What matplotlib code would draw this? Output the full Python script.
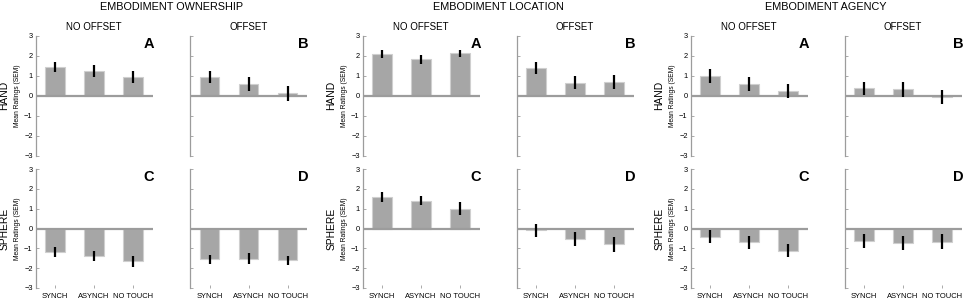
import matplotlib
matplotlib.use("Agg")
import matplotlib.pyplot as plt

plt.rcParams['font.family'] = ['Liberation Sans', 'DejaVu Sans']

conditions = ["SYNCH", "ASYNCH", "NO TOUCH"]
measures = ["EMBODIMENT OWNERSHIP", "EMBODIMENT LOCATION", "EMBODIMENT AGENCY"]
col_titles = ["NO OFFSET", "OFFSET"]
row_titles = ["HAND", "SPHERE"]
panel_letters = [["A", "B"], ["C", "D"]]
yticks = [-3, -2, -1, 0, 1, 2, 3]

# Ownership (A: hand/no offset, B: hand/offset, C: sphere/no offset, D: sphere/offset)
own_A = [1.45, 1.25, 0.95]
own_A_sem = [0.25, 0.30, 0.30]
own_B = [0.95, 0.57, 0.12]
own_B_sem = [0.30, 0.35, 0.37]
own_C = [-1.19, -1.39, -1.66]
own_C_sem = [0.25, 0.24, 0.27]
own_D = [-1.55, -1.53, -1.61]
own_D_sem = [0.22, 0.28, 0.24]

# Location
loc_A = [2.07, 1.82, 2.12]
loc_A_sem = [0.19, 0.22, 0.18]
loc_B = [1.37, 0.65, 0.68]
loc_B_sem = [0.29, 0.33, 0.35]
loc_C = [1.60, 1.40, 1.00]
loc_C_sem = [0.25, 0.22, 0.32]
loc_D = [-0.10, -0.53, -0.80]
loc_D_sem = [0.32, 0.33, 0.37]

# Agency
agc_A = [0.97, 0.57, 0.25]
agc_A_sem = [0.36, 0.35, 0.34]
agc_B = [0.37, 0.32, -0.05]
agc_B_sem = [0.33, 0.38, 0.34]
agc_C = [-0.42, -0.69, -1.13]
agc_C_sem = [0.32, 0.32, 0.33]
agc_D = [-0.62, -0.74, -0.67]
agc_D_sem = [0.34, 0.35, 0.38]

data = [
    [[(own_A, own_A_sem), (own_B, own_B_sem)], [(own_C, own_C_sem), (own_D, own_D_sem)]],
    [[(loc_A, loc_A_sem), (loc_B, loc_B_sem)], [(loc_C, loc_C_sem), (loc_D, loc_D_sem)]],
    [[(agc_A, agc_A_sem), (agc_B, agc_B_sem)], [(agc_C, agc_C_sem), (agc_D, agc_D_sem)]],
]

W, H = 964, 300
fig = plt.figure(figsize=(W / 100, H / 100), dpi=100)

lefts_px = [[35.5, 190.0], [362.5, 516.5], [690.5, 844.5]]
ax_w_px = 117.0
rows_px = [(35.5, 156.0), (169.0, 288.0)]  # (top, bottom)

bar_color = "#a6a6a6"
edge_color = "#cfcfcf"
axis_gray = "#9c9c9c"

for m in range(3):
    for r in range(2):
        for c in range(2):
            left = lefts_px[m][c] / W
            top, bot = rows_px[r]
            ax = fig.add_axes([left, 1 - bot / H, ax_w_px / W, (bot - top) / H])
            vals, sems = data[m][r][c]
            x = [1, 2, 3]
            ax.bar(x, vals, width=0.5, color=bar_color, edgecolor=edge_color,
                   linewidth=0.8, zorder=2)
            ax.axhline(0, color=axis_gray, lw=1.6, zorder=3)
            ax.errorbar(x, vals, yerr=sems, fmt='none', ecolor='black',
                        elinewidth=1.6, capsize=0, zorder=4)
            ax.set_xlim(0.5, 3.5)
            ax.set_ylim(-3, 3)
            for s in ['top', 'right', 'bottom']:
                ax.spines[s].set_visible(False)
            ax.spines['left'].set_color(axis_gray)
            ax.spines['left'].set_linewidth(0.9)
            ax.set_yticks(yticks)
            ax.tick_params(axis='y', direction='in', length=2, width=0.6,
                           color=axis_gray, labelsize=5.4, pad=2)
            if c == 0:
                ax.set_yticklabels([str(t).replace('-', '\u2212') for t in yticks])
                ax.set_ylabel("Mean Ratings (SEM)", fontsize=4.9, labelpad=2)
                ax.text(-0.265, 0.5, row_titles[r], transform=ax.transAxes,
                        rotation=90, ha='center', va='center', fontsize=7.4)
            else:
                ax.set_yticklabels([])
            if r == 1:
                ax.set_xticks(x)
                ax.set_xticklabels(conditions)
                ax.tick_params(axis='x', direction='in', length=2, width=0.6,
                               color=axis_gray, labelsize=5.4, pad=3.5)
            else:
                ax.set_xticks([])
                ax.set_title(col_titles[c], fontsize=7.0, pad=4)
            ax.text(1.015, 0.895, panel_letters[r][c], transform=ax.transAxes,
                    ha='right', va='baseline', fontsize=10.5, fontweight='bold')

    cx = (lefts_px[m][0] + lefts_px[m][1] + ax_w_px) / 2 / W
    fig.text(cx, 1 - 6.5 / H, measures[m], ha='center', va='center', fontsize=7.8)

fig.savefig("out.png", dpi=100)
